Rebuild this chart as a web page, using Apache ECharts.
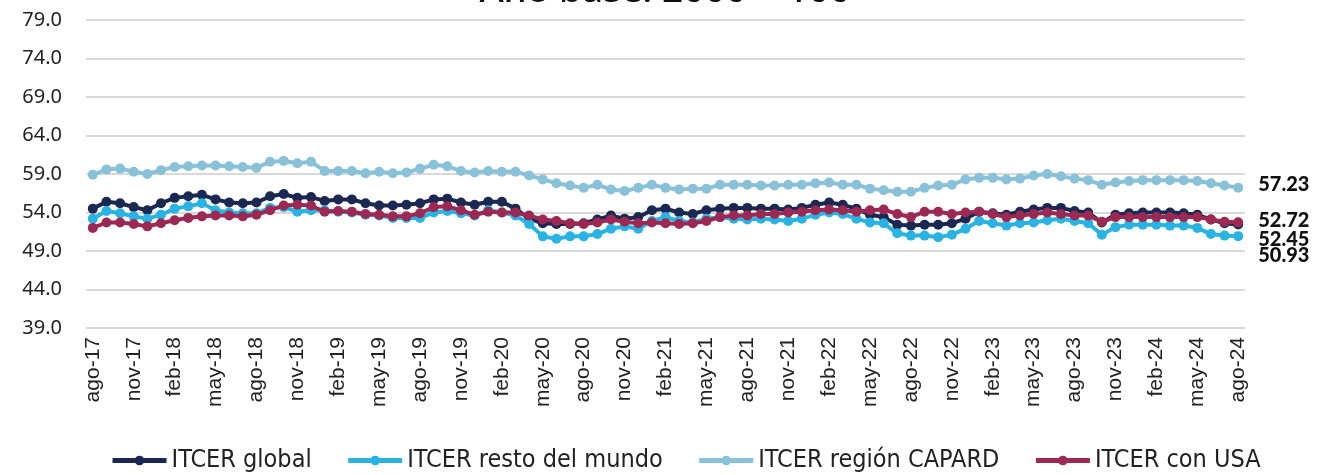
<!DOCTYPE html>
<html>
<head>
<meta charset="utf-8">
<script src="https://cdn.jsdelivr.net/npm/echarts@6/dist/echarts.min.js"></script>
<style>
  html, body { margin: 0; padding: 0; background: #fff; }
  #chart { width: 1330px; height: 475px; }
</style>
</head>
<body>
<div id="chart"></div>
<script>
// Monthly index, ago-17 .. ago-24 (base 2000 = 100)
const monthNames = ['ene','feb','mar','abr','may','jun','jul','ago','sep','oct','nov','dic'];
const categories = [];
for (let y = 17, m = 7; !(y === 24 && m === 8); ) {
  categories.push(monthNames[m] + '-' + y);
  m++; if (m === 12) { m = 0; y++; }
}

const yTicks = [39, 44, 49, 54, 59, 64, 69, 74, 79];

const itcerGlobal = [
  54.5, 55.4, 55.2, 54.7, 54.3, 55.2, 55.9, 56.1, 56.3, 55.7,
  55.3, 55.2, 55.3, 56.1, 56.4, 55.9, 56.0, 55.5, 55.7, 55.7,
  55.2, 54.9, 54.9, 55.0, 55.2, 55.7, 55.8, 55.3, 55.0, 55.4,
  55.4, 54.5, 53.2, 52.6, 52.5, 52.5, 52.6, 53.1, 53.6, 53.2,
  53.4, 54.3, 54.5, 54.0, 53.8, 54.3, 54.5, 54.6, 54.6, 54.5,
  54.5, 54.4, 54.6, 55.0, 55.3, 55.0, 54.5, 53.7, 53.4, 52.4,
  52.3, 52.4, 52.4, 52.6, 53.2, 54.1, 53.9, 53.7, 54.1, 54.4,
  54.6, 54.6, 54.2, 54.0, 52.7, 53.7, 53.9, 54.0, 54.0, 54.0,
  53.9, 53.7, 53.1, 52.6, 52.45
];

const itcerResto = [
  53.2, 54.2, 53.9, 53.5, 53.2, 53.7, 54.5, 54.8, 55.2, 54.3,
  54.0, 53.9, 53.9, 54.6, 54.7, 54.1, 54.3, 54.3, 54.1, 54.0,
  53.7, 53.6, 53.3, 53.3, 53.3, 54.0, 54.2, 53.9, 53.6, 54.3,
  54.0, 53.6, 52.5, 50.9, 50.6, 50.9, 50.9, 51.2, 51.9, 52.2,
  51.9, 52.9, 53.4, 52.9, 52.7, 53.2, 53.4, 53.2, 53.1, 53.2,
  53.1, 52.9, 53.2, 53.7, 54.0, 53.8, 53.2, 52.7, 52.6, 51.3,
  51.0, 51.0, 50.8, 51.1, 51.9, 52.9, 52.6, 52.3, 52.6, 52.7,
  53.0, 53.2, 52.9, 52.6, 51.1, 52.1, 52.4, 52.4, 52.4, 52.3,
  52.3, 52.0, 51.2, 51.0, 50.93
];

const itcerCapard = [
  58.9, 59.6, 59.7, 59.3, 59.0, 59.5, 59.9, 60.0, 60.1, 60.1,
  60.0, 59.9, 59.8, 60.6, 60.7, 60.4, 60.6, 59.4, 59.4, 59.4,
  59.1, 59.3, 59.1, 59.2, 59.7, 60.2, 60.0, 59.4, 59.2, 59.4,
  59.3, 59.3, 58.8, 58.3, 57.8, 57.5, 57.2, 57.6, 57.0, 56.8,
  57.2, 57.6, 57.2, 57.0, 57.1, 57.1, 57.6, 57.6, 57.6, 57.5,
  57.5, 57.6, 57.6, 57.8, 57.9, 57.6, 57.6, 57.1, 56.9, 56.7,
  56.7, 57.2, 57.5, 57.6, 58.3, 58.5, 58.5, 58.3, 58.4, 58.8,
  59.0, 58.7, 58.4, 58.2, 57.6, 57.9, 58.1, 58.2, 58.2, 58.2,
  58.2, 58.1, 57.8, 57.5, 57.23
];

const itcerUsa = [
  52.0, 52.7, 52.7, 52.5, 52.2, 52.6, 53.0, 53.3, 53.5, 53.6,
  53.6, 53.5, 53.7, 54.3, 54.9, 55.0, 54.9, 54.1, 54.2, 54.1,
  53.8, 53.7, 53.5, 53.5, 53.9, 54.7, 54.8, 54.3, 53.7, 54.1,
  54.0, 54.0, 53.6, 53.1, 52.9, 52.6, 52.5, 52.7, 53.1, 52.8,
  52.6, 52.7, 52.6, 52.5, 52.6, 52.9, 53.4, 53.6, 53.6, 53.8,
  53.8, 54.0, 54.1, 54.3, 54.4, 54.3, 54.1, 54.3, 54.4, 53.8,
  53.4, 54.1, 54.1, 53.8, 54.0, 54.1, 53.8, 53.4, 53.6, 53.8,
  54.0, 53.8, 53.6, 53.6, 52.8, 53.4, 53.4, 53.4, 53.4, 53.4,
  53.4, 53.4, 53.1, 52.8, 52.72
];

const seriesNames = ['ITCER global', 'ITCER resto del mundo', 'ITCER región CAPARD', 'ITCER con USA'];
const seriesColors = ['#1b2852', '#29b3e3', '#89c2d8', '#9c2953'];
const seriesData = [itcerGlobal, itcerResto, itcerCapard, itcerUsa];
// vertical nudge of the closing value label so the four labels do not collide
const endLabelOffsets = [15, 19, -3, -2];

const chart = echarts.init(document.getElementById('chart'), null, { renderer: 'canvas' });

function buildSeries(idx) {
  const vals = seriesData[idx];
  const data = vals.map((v, i) => {
    if (i !== vals.length - 1) return v;
    return {
      value: v,
      label: {
        show: true,
        position: 'right',
        distance: 15,
        offset: [0, endLabelOffsets[idx]],
        formatter: p => p.value.toFixed(2),
        fontFamily: 'Lato',
        fontWeight: 900,
        fontSize: 20,
        color: '#111'
      }
    };
  });
  return {
    name: seriesNames[idx],
    type: 'line',
    data: data,
    symbol: 'circle',
    symbolSize: 10,
    showAllSymbol: true,
    lineStyle: { width: 4, color: seriesColors[idx] },
    itemStyle: { color: seriesColors[idx] },
    emphasis: { disabled: true },
    animation: false,
    z: 2 + idx
  };
}

chart.setOption({
  animation: false,
  title: {
    text: 'Año base: 2000 = 100',
    left: 'center',
    top: -32,
    textStyle: { fontFamily: 'Noto Sans', fontSize: 37, fontWeight: 500, color: '#111' }
  },
  grid: { left: 86, right: 85, top: 20, bottom: 147, containLabel: false },
  xAxis: {
    type: 'category',
    data: categories,
    boundaryGap: true,
    axisLine: { show: false },
    axisTick: { show: false },
    axisLabel: {
      interval: 2,
      rotate: 90,
      margin: 9,
      fontFamily: 'Liberation Sans',
      fontSize: 21,
      color: '#222'
    }
  },
  yAxis: {
    type: 'value',
    min: yTicks[0],
    max: yTicks[yTicks.length - 1],
    interval: yTicks[1] - yTicks[0],
    axisLine: { show: false },
    axisTick: { show: false },
    splitLine: { lineStyle: { color: '#d9d9d9', width: 2 } },
    axisLabel: {
      margin: 24,
      formatter: v => v.toFixed(1),
      fontFamily: 'Noto Sans',
      fontSize: 20,
      color: '#222'
    }
  },
  legend: {
    bottom: -3,
    left: 105,
    itemWidth: 54,
    itemHeight: 12,
    itemGap: 34,
    lineStyle: { width: 5 },
    textStyle: { fontFamily: 'DejaVu Sans Condensed', fontSize: 25, color: '#222' },
    data: seriesNames
  },
  series: [buildSeries(0), buildSeries(1), buildSeries(2), buildSeries(3)]
});
</script>
</body>
</html>
